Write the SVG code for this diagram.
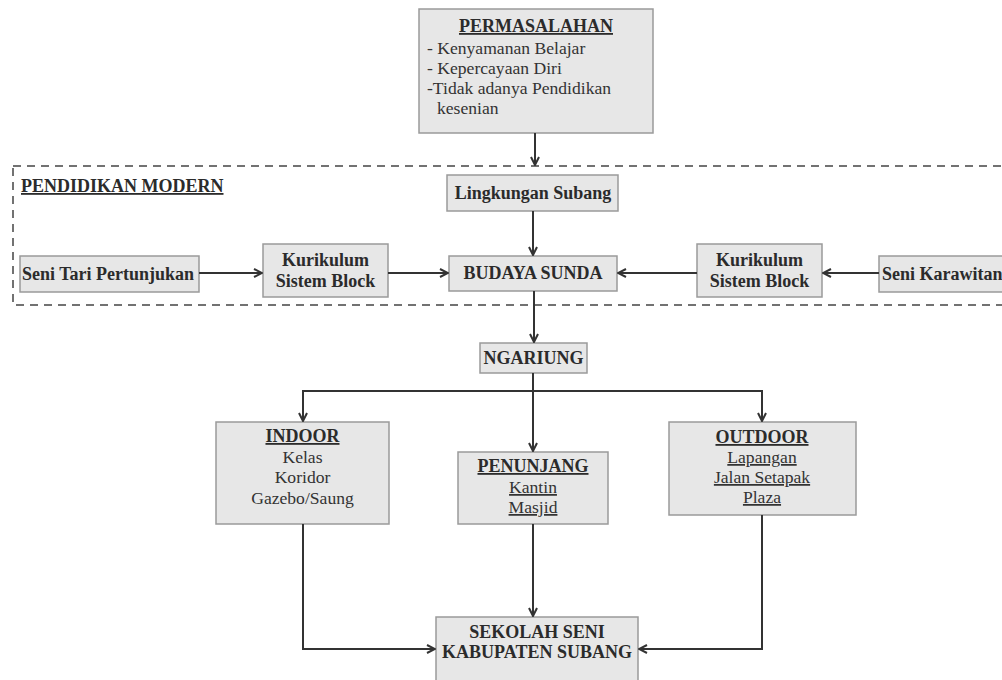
<svg xmlns="http://www.w3.org/2000/svg" width="1002" height="680" viewBox="0 0 1002 680">
<defs>
<style>
.box{fill:#e7e7e7;stroke:#9a9a9a;stroke-width:1.5}
.b{font-family:"Liberation Serif",serif;font-weight:bold;font-size:18px;fill:#2b2b2b}
.r{font-family:"Liberation Serif",serif;font-size:17.6px;fill:#333}
.c{text-anchor:middle}
.u{text-decoration:underline}
.ln{fill:none;stroke:#333;stroke-width:2}
.dash{fill:none;stroke:#444;stroke-width:1.5;stroke-dasharray:8,6}
</style>
<marker id="ah" viewBox="0 0 10 10" refX="9" refY="5" markerWidth="10" markerHeight="10" markerUnits="userSpaceOnUse" orient="auto">
<path d="M1,1 L9,5 L1,9" fill="none" stroke="#333" stroke-width="2"/>
</marker>
</defs>
<rect width="1002" height="680" fill="#fff"/>

<g id="pendidikan-modern">
<rect class="dash" x="13" y="166" width="1000" height="139"/>
<text class="b u" x="21" y="192">PENDIDIKAN MODERN</text>
</g>

<g id="permasalahan">
<rect class="box" x="419" y="9" width="234" height="124"/>
<text class="b c u" x="536" y="32">PERMASALAHAN</text>
<text class="r" x="427" y="54">- Kenyamanan Belajar</text>
<text class="r" x="427" y="74">- Kepercayaan Diri</text>
<text class="r" x="427" y="94">-Tidak adanya Pendidikan</text>
<text class="r" x="437" y="114">kesenian</text>
</g>

<g id="lingkungan">
<rect class="box" x="447" y="175" width="171" height="36"/>
<text class="b c" x="533" y="199">Lingkungan Subang</text>
</g>

<g id="seni-tari">
<rect class="box" x="20" y="256" width="179" height="36"/>
<text class="b" x="22" y="280">Seni Tari Pertunjukan</text>
</g>

<g id="kurikulum-kiri">
<rect class="box" x="263" y="244" width="125" height="53"/>
<text class="b c" x="325.5" y="266">Kurikulum</text>
<text class="b c" x="325.5" y="287">Sistem Block</text>
</g>

<g id="budaya-sunda">
<rect class="box" x="449" y="256" width="168" height="35"/>
<text class="b c" x="533" y="279">BUDAYA SUNDA</text>
</g>

<g id="kurikulum-kanan">
<rect class="box" x="697" y="244" width="125" height="53"/>
<text class="b c" x="759.5" y="266">Kurikulum</text>
<text class="b c" x="759.5" y="287">Sistem Block</text>
</g>

<g id="seni-karawitan">
<rect class="box" x="879" y="256" width="130" height="36"/>
<text class="b" x="882" y="280">Seni Karawitan</text>
</g>

<g id="ngariung">
<rect class="box" x="480" y="343" width="107" height="30"/>
<text class="b c" x="533.5" y="364">NGARIUNG</text>
</g>

<g id="indoor">
<rect class="box" x="216" y="422" width="173" height="102"/>
<text class="b c u" x="302.5" y="442">INDOOR</text>
<text class="r c" x="302.5" y="463">Kelas</text>
<text class="r c" x="302.5" y="483">Koridor</text>
<text class="r c" x="302.5" y="504">Gazebo/Saung</text>
</g>

<g id="penunjang">
<rect class="box" x="458" y="452" width="150" height="72"/>
<text class="b c u" x="533" y="472">PENUNJANG</text>
<text class="r c u" x="533" y="493">Kantin</text>
<text class="r c u" x="533" y="513">Masjid</text>
</g>

<g id="outdoor">
<rect class="box" x="669" y="422" width="187" height="93"/>
<text class="b c u" x="762" y="443">OUTDOOR</text>
<text class="r c u" x="762" y="463">Lapangan</text>
<text class="r c u" x="762" y="483">Jalan Setapak</text>
<text class="r c u" x="762" y="503">Plaza</text>
</g>

<g id="sekolah">
<rect class="box" x="436" y="617" width="202" height="75"/>
<text class="b c" x="537" y="638">SEKOLAH SENI</text>
<text class="b c" x="537" y="658">KABUPATEN SUBANG</text>
</g>

<g id="connectors">
<line class="ln" x1="535" y1="133" x2="535" y2="165" marker-end="url(#ah)"/>
<line class="ln" x1="533" y1="211" x2="533" y2="255" marker-end="url(#ah)"/>
<line class="ln" x1="199" y1="273" x2="262" y2="273" marker-end="url(#ah)"/>
<line class="ln" x1="388" y1="273" x2="448" y2="273" marker-end="url(#ah)"/>
<line class="ln" x1="879" y1="273" x2="823" y2="273" marker-end="url(#ah)"/>
<line class="ln" x1="697" y1="273" x2="618" y2="273" marker-end="url(#ah)"/>
<line class="ln" x1="534" y1="291" x2="534" y2="342" marker-end="url(#ah)"/>
<line class="ln" x1="533" y1="373" x2="533" y2="451" marker-end="url(#ah)"/>
<path class="ln" d="M533,391 H303 V421" marker-end="url(#ah)"/>
<path class="ln" d="M533,391 H762 V421" marker-end="url(#ah)"/>
<line class="ln" x1="533" y1="524" x2="533" y2="616" marker-end="url(#ah)"/>
<path class="ln" d="M303,524 V649 H435" marker-end="url(#ah)"/>
<path class="ln" d="M762,515 V649 H639" marker-end="url(#ah)"/>
</g>
</svg>
